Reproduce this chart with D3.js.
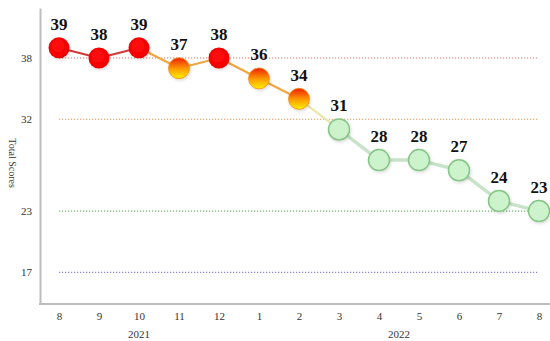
<!DOCTYPE html>
<html>
<head>
<meta charset="utf-8">
<script src="https://cdn.jsdelivr.net/npm/d3@7"></script>
<style>
  html, body { margin: 0; padding: 0; background: #fff; }
  svg { display: block; }
</style>
</head>
<body>
<svg id="chart" width="550" height="341"></svg>
<script>
// Monthly total scores, Aug 2021 – Aug 2022
const months = ["8", "9", "10", "11", "12", "1", "2", "3", "4", "5", "6", "7", "8"];
const scores = [39, 38, 39, 37, 38, 36, 34, 31, 28, 28, 27, 24, 23];
const years = [
  { label: "2021", from: 0, to: 4 },
  { label: "2022", from: 5, to: 12 }
];
const yTicks = [17, 23, 32, 38];
const refColors = ["#8884d6", "#74b274", "#dd9450", "#d9776c"];

const svg = d3.select("#chart");
const W = 550, H = 341;
const margin = { left: 40, right: 0, top: 8, bottom: 37 };

const x = d3.scalePoint()
  .domain(d3.range(months.length))
  .range([59, 539]);

const y = d3.scaleLinear()
  .domain([13.9, 42.9])
  .range([H - margin.bottom, margin.top]);

const serif = "'Liberation Serif', 'Times New Roman', serif";

// gradients for the markers
const defs = svg.append("defs");
const warm = defs.append("linearGradient")
  .attr("id", "warm").attr("x1", 0).attr("y1", 0).attr("x2", 0).attr("y2", 1);
warm.append("stop").attr("offset", "0%").attr("stop-color", "#f01e00");
warm.append("stop").attr("offset", "50%").attr("stop-color", "#fb9500");
warm.append("stop").attr("offset", "100%").attr("stop-color", "#fff200");

const hot = defs.append("radialGradient")
  .attr("id", "hot").attr("cx", "45%").attr("cy", "40%").attr("r", "60%");
hot.append("stop").attr("offset", "0%").attr("stop-color", "#ff1010");
hot.append("stop").attr("offset", "85%").attr("stop-color", "#f50000");
hot.append("stop").attr("offset", "100%").attr("stop-color", "#e00000");

const soft = defs.append("filter").attr("id", "shadow")
  .attr("x", "-50%").attr("y", "-50%").attr("width", "200%").attr("height", "200%");
soft.append("feDropShadow").attr("dx", 1).attr("dy", 1.5)
  .attr("stdDeviation", 1.5).attr("flood-color", "#000").attr("flood-opacity", 0.15);

function level(v) {
  if (v >= 38) return "high";
  if (v >= 32) return "mid";
  return "low";
}

// dotted reference lines
yTicks.forEach((t, i) => {
  svg.append("line")
    .attr("x1", x(0)).attr("x2", x(months.length - 1))
    .attr("y1", y(t)).attr("y2", y(t))
    .attr("stroke", refColors[i])
    .attr("stroke-width", 1.2)
    .attr("stroke-dasharray", "1.2,1.8");
});

// axes
const yAxis = svg.append("g")
  .attr("transform", `translate(${margin.left},0)`)
  .call(d3.axisLeft(y).tickValues(yTicks).tickSize(0).tickPadding(8));
yAxis.select(".domain").attr("stroke", "#bdbdbd").attr("stroke-width", 2);
yAxis.selectAll("text").attr("font-family", serif).attr("font-size", 11).attr("fill", "#333");

const xAxis = svg.append("g")
  .attr("transform", `translate(0,${H - margin.bottom})`)
  .call(d3.axisBottom(x).tickSize(0).tickPadding(8).tickFormat(i => months[i]));
xAxis.select(".domain")
  .attr("d", `M${margin.left - 1},0H${W}`)
  .attr("stroke", "#bdbdbd").attr("stroke-width", 2);
xAxis.selectAll("text").attr("font-family", serif).attr("font-size", 11).attr("fill", "#333");

// year labels centred under their months
svg.selectAll(".year").data(years).join("text")
  .attr("class", "year")
  .attr("x", d => (x(d.from) + x(d.to)) / 2)
  .attr("y", 338)
  .attr("text-anchor", "middle")
  .attr("font-family", serif).attr("font-size", 11).attr("fill", "#333")
  .text(d => d.label);

// y axis title
svg.append("text")
  .attr("transform", `translate(9,${y(27.7)}) rotate(90)`)
  .attr("text-anchor", "middle")
  .attr("font-family", serif).attr("font-size", 10).attr("fill", "#333")
  .text("Total Scores");

// connecting segments, coloured by the levels they join
function segColor(a, b) {
  const la = level(a), lb = level(b);
  if (la === "high" && lb === "high") return "#cf3a3a";
  if (la === "low" && lb === "low") return "#c9e3c9";
  if (la === "low" || lb === "low") return "#e9e6a6";
  return "#f0a640";
}
const segs = d3.range(scores.length - 1).map(i => ({ i, a: scores[i], b: scores[i + 1] }));
svg.selectAll(".seg").data(segs).join("line")
  .attr("class", "seg")
  .attr("x1", d => x(d.i)).attr("y1", d => y(d.a))
  .attr("x2", d => x(d.i + 1)).attr("y2", d => y(d.b))
  .attr("stroke", d => segColor(d.a, d.b))
  .attr("stroke-width", d => level(d.a) === "low" && level(d.b) === "low" ? 3.5 : 2.2);

// markers
const pts = scores.map((v, i) => ({ i, v }));
svg.selectAll(".pt").data(pts).join("circle")
  .attr("class", "pt")
  .attr("cx", d => x(d.i)).attr("cy", d => y(d.v))
  .attr("r", 10.5)
  .attr("filter", "url(#shadow)")
  .attr("fill", d => level(d.v) === "high" ? "url(#hot)" : level(d.v) === "mid" ? "url(#warm)" : "#cdf3cd")
  .attr("stroke", d => level(d.v) === "high" ? "none" : level(d.v) === "mid" ? "#f08a18" : "#86c686")
  .attr("stroke-width", d => level(d.v) === "low" ? 1.5 : 0.8);

// value labels
svg.selectAll(".val").data(pts).join("text")
  .attr("class", "val")
  .attr("x", d => x(d.i)).attr("y", d => y(d.v) - 18)
  .attr("text-anchor", "middle")
  .attr("font-family", serif).attr("font-weight", "bold").attr("font-size", 17)
  .attr("fill", "#111")
  .text(d => d.v);
</script>
</body>
</html>
